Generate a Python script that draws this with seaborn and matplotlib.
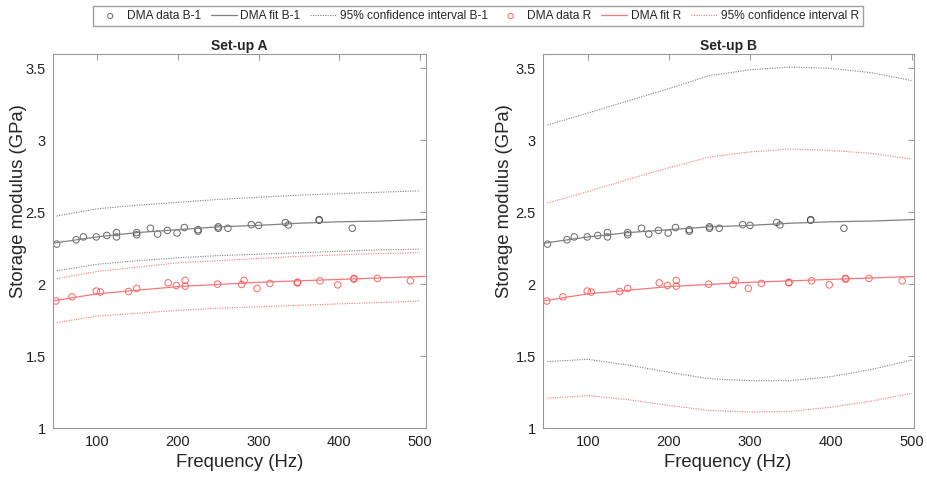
"""
Storage modulus vs frequency, DMA data with fits and 95% CI for two set-ups
"""

import numpy as np
import pandas as pd
import matplotlib
matplotlib.use("Agg")
import matplotlib.pyplot as plt
from matplotlib.ticker import FormatStrFormatter
import seaborn as sns

# DMA measurements (same in both set-ups)
freq_b1 = [50, 74, 83, 99, 112, 124, 124, 149, 149, 166, 175, 187, 199, 208,
           225, 225, 250, 250, 262, 291, 300, 333, 337, 375, 375, 416]
mod_b1 = [2.28, 2.31, 2.33, 2.33, 2.34, 2.36, 2.33, 2.36, 2.345, 2.39, 2.35,
          2.375, 2.357, 2.395, 2.38, 2.37, 2.40, 2.39, 2.39, 2.415, 2.41,
          2.43, 2.413, 2.45, 2.445, 2.39]

freq_r = [49, 69, 99, 104, 139, 149, 188, 198, 209, 209, 249, 279, 282, 298,
          314, 348, 348, 376, 398, 418, 418, 447, 488]
mod_r = [1.885, 1.914, 1.954, 1.947, 1.951, 1.972, 2.011, 1.993, 2.028, 1.988,
         2.002, 2.0, 2.028, 1.972, 2.007, 2.011, 2.015, 2.025, 1.997, 2.037,
         2.042, 2.042, 2.025]

# fit curves and confidence bounds, read at these frequencies
freq_fit = [45, 50, 100, 150, 200, 250, 300, 350, 400, 450, 500, 507]
fit_b1 = [2.284, 2.29, 2.33, 2.36, 2.38, 2.40, 2.41, 2.425, 2.435, 2.44, 2.45, 2.451]
fit_r = [1.887, 1.89, 1.935, 1.96, 1.985, 2.0, 2.015, 2.025, 2.035, 2.045, 2.055, 2.056]

freq_ci = [50, 100, 150, 200, 250, 300, 350, 400, 450, 500]
ci_a_b1_hi = [2.475, 2.525, 2.55, 2.57, 2.59, 2.605, 2.62, 2.63, 2.64, 2.65]
ci_a_b1_lo = [2.095, 2.14, 2.165, 2.185, 2.20, 2.21, 2.22, 2.23, 2.24, 2.245]
ci_a_r_hi = [2.04, 2.09, 2.12, 2.15, 2.165, 2.18, 2.195, 2.205, 2.215, 2.22]
ci_a_r_lo = [1.735, 1.78, 1.80, 1.82, 1.835, 1.845, 1.855, 1.865, 1.875, 1.885]

ci_b_b1_hi = [3.107, 3.19, 3.275, 3.36, 3.45, 3.49, 3.51, 3.50, 3.47, 3.415]
ci_b_b1_lo = [1.465, 1.48, 1.44, 1.39, 1.345, 1.332, 1.332, 1.36, 1.41, 1.475]
ci_b_r_hi = [2.565, 2.645, 2.73, 2.81, 2.885, 2.92, 2.94, 2.93, 2.91, 2.87]
ci_b_r_lo = [1.21, 1.228, 1.20, 1.16, 1.125, 1.115, 1.118, 1.148, 1.19, 1.245]

panels = [
    ("Set-up A", (45, 507), ci_a_b1_hi, ci_a_b1_lo, ci_a_r_hi, ci_a_r_lo),
    ("Set-up B", (44, 502), ci_b_b1_hi, ci_b_b1_lo, ci_b_r_hi, ci_b_r_lo),
]

sns.set_style("white")
plt.rcParams["font.family"] = ["Liberation Sans", "DejaVu Sans"]

black = "#333333"
grey = "#808080"
red = "#ff3030"
red_line = "#f47878"

fig = plt.figure(figsize=(9.28, 4.78), dpi=100)
axes = [fig.add_axes([0.0568, 0.1036, 0.402, 0.7835]),
        fig.add_axes([0.5848, 0.1036, 0.3996, 0.7835])]
label_x = [-0.07, -0.08]

df_b1 = pd.DataFrame({"f": freq_b1, "E": mod_b1})
df_r = pd.DataFrame({"f": freq_r, "E": mod_r})

for ax, lx, (title, xlim, b1_hi, b1_lo, r_hi, r_lo) in zip(axes, label_x, panels):
    fit_df = pd.DataFrame({"f": freq_fit, "b1": fit_b1, "r": fit_r})
    ci_df = pd.DataFrame({"f": freq_ci, "b1_hi": b1_hi, "b1_lo": b1_lo,
                          "r_hi": r_hi, "r_lo": r_lo})

    sns.scatterplot(data=df_b1, x="f", y="E", ax=ax, marker="o", s=22,
                    facecolor="none", edgecolor=black, linewidth=0.7,
                    alpha=0.75, label="DMA data B-1")
    sns.lineplot(data=fit_df, x="f", y="b1", ax=ax, color=grey, lw=0.9,
                 label="DMA fit B-1")
    sns.lineplot(data=ci_df, x="f", y="b1_hi", ax=ax, color=grey, lw=0.8,
                 ls=(0, (1, 1.2)), label="95% confidence interval B-1")
    sns.lineplot(data=ci_df, x="f", y="b1_lo", ax=ax, color=grey, lw=0.8,
                 ls=(0, (1, 1.2)))

    sns.scatterplot(data=df_r, x="f", y="E", ax=ax, marker="o", s=22,
                    facecolor="none", edgecolor=red, linewidth=0.7,
                    alpha=0.75, label="DMA data R")
    sns.lineplot(data=fit_df, x="f", y="r", ax=ax, color=red_line, lw=0.9,
                 label="DMA fit R")
    sns.lineplot(data=ci_df, x="f", y="r_hi", ax=ax, color=red_line, lw=0.8,
                 ls=(0, (1, 1.2)), label="95% confidence interval R")
    sns.lineplot(data=ci_df, x="f", y="r_lo", ax=ax, color=red_line, lw=0.8,
                 ls=(0, (1, 1.2)))

    ax.set_xlim(*xlim)
    ax.set_ylim(1, 3.6)
    ax.set_xticks([100, 200, 300, 400, 500])
    ax.set_yticks([1, 1.5, 2, 2.5, 3, 3.5])
    ax.yaxis.set_major_formatter(FormatStrFormatter("%g"))
    ax.tick_params(direction="in", top=True, right=True, length=4,
                   width=0.6, color="#888888", labelsize=10.5,
                   labelcolor="#222222", pad=5)
    for sp in ax.spines.values():
        sp.set_color("#999999")
        sp.set_linewidth(0.8)
    ax.set_title(title, fontsize=10, fontweight="bold", pad=3)
    ax.set_xlabel("Frequency (Hz)", fontsize=13.3, labelpad=3)
    ax.set_ylabel("Storage modulus (GPa)", fontsize=13.3)
    ax.yaxis.set_label_coords(lx, 0.607)

handles, labels = axes[0].get_legend_handles_labels()
for ax in axes:
    ax.get_legend().remove()

fig.legend(handles, labels, loc="upper center", ncol=6,
           bbox_to_anchor=(0.515, 1.0), fontsize=8.6, frameon=True,
           fancybox=False, edgecolor="#888888", handlelength=2.2,
           handletextpad=0.3, columnspacing=0.8, borderpad=0.35,
           markerscale=0.8)

fig.savefig("out.png", dpi=100)
